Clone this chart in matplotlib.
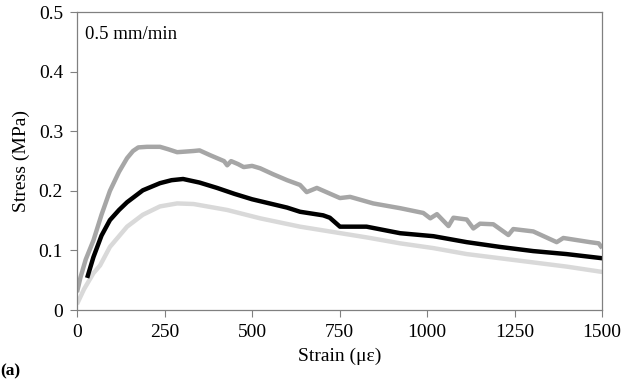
import matplotlib.pyplot as plt

# Stress-strain data (strain in microstrain, stress in MPa)
gray_strain = [0, 10, 25, 47, 70, 94, 120, 143, 160, 175, 200, 237, 260, 286, 310,
               333, 350, 380, 400, 420, 429, 440, 460, 476, 500, 523, 560, 600, 637,
               656, 685, 751, 780, 846, 923, 989, 1009, 1028, 1061, 1075, 1113, 1132,
               1151, 1189, 1232, 1246, 1303, 1370, 1389, 1465, 1490, 1500]
gray_stress = [0.030, 0.055, 0.085, 0.117, 0.160, 0.200, 0.232, 0.255, 0.267, 0.273,
               0.274, 0.274, 0.270, 0.265, 0.266, 0.267, 0.268, 0.260, 0.255, 0.250,
               0.243, 0.250, 0.245, 0.240, 0.242, 0.238, 0.228, 0.218, 0.210, 0.198,
               0.205, 0.188, 0.190, 0.179, 0.171, 0.163, 0.154, 0.161, 0.141, 0.155,
               0.152, 0.137, 0.145, 0.144, 0.126, 0.136, 0.132, 0.114, 0.121, 0.114,
               0.112, 0.104]

black_strain = [29, 47, 70, 94, 120, 143, 188, 237, 270, 303, 350, 400, 450, 500, 600,
                637, 703, 722, 751, 827, 923, 1018, 1113, 1208, 1303, 1398, 1500]
black_stress = [0.054, 0.089, 0.125, 0.151, 0.168, 0.181, 0.201, 0.213, 0.218, 0.220,
                0.214, 0.205, 0.195, 0.186, 0.172, 0.165, 0.159, 0.155, 0.140, 0.140,
                0.129, 0.124, 0.114, 0.106, 0.099, 0.094, 0.087]

light_strain = [0, 20, 47, 66, 94, 143, 188, 237, 286, 333, 429, 523, 637, 732, 827,
                923, 1018, 1113, 1208, 1303, 1398, 1500]
light_stress = [0.010, 0.035, 0.062, 0.075, 0.106, 0.140, 0.160, 0.174, 0.179, 0.178,
                0.168, 0.154, 0.140, 0.131, 0.122, 0.112, 0.104, 0.094, 0.087, 0.080,
                0.073, 0.064]

x_ticks = [0, 250, 500, 750, 1000, 1250, 1500]
y_ticks = [0, 0.1, 0.2, 0.3, 0.4, 0.5]
y_tick_labels = ['0', '0.1', '0.2', '0.3', '0.4', '0.5']

plt.rcParams['font.family'] = ['Liberation Serif', 'DejaVu Serif']

fig = plt.figure(figsize=(6.26, 3.8), dpi=100)
ax = fig.add_axes([0.123, 0.184, 0.839, 0.784])

ax.plot(light_strain, light_stress, color='#d9d9d9', lw=3.2, solid_capstyle='butt')
ax.plot(gray_strain, gray_stress, color='#a6a6a6', lw=3.2, solid_capstyle='butt')
ax.plot(black_strain, black_stress, color='black', lw=3.2, solid_capstyle='butt')

ax.set_xlim(0, 1500)
ax.set_ylim(0, 0.5)
ax.set_xticks(x_ticks)
ax.set_yticks(y_ticks)
ax.set_yticklabels(y_tick_labels)
ax.tick_params(direction='out', length=5, width=0.8, color='#808080',
               labelsize=14, pad=5)
for sp in ax.spines.values():
    sp.set_color('#808080')
    sp.set_linewidth(0.9)

ax.set_xlabel('Strain (\u03bc\u03b5)', fontsize=14, labelpad=5)
ax.set_ylabel('Stress (MPa)', fontsize=14, labelpad=6)
ax.text(0.015, 0.955, '0.5 mm/min', transform=ax.transAxes, fontsize=13.5,
        va='top', ha='left')
fig.text(0.0, 0.002, '(a)', fontsize=12.5, fontweight='bold', va='bottom', ha='left')

fig.savefig('out.png', dpi=100)
